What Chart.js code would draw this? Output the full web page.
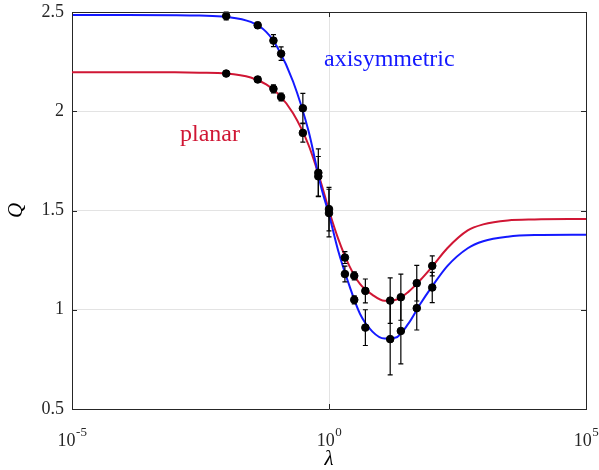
<!DOCTYPE html>
<html>
<head>
<meta charset="utf-8">
<script src="https://cdn.jsdelivr.net/npm/chart.js@4"></script>
<style>
  html, body { margin: 0; padding: 0; background: #fff; }
  canvas { display: block; }
</style>
</head>
<body>
<canvas id="chart" width="599" height="470"></canvas>
<script>
// measured points (black markers with error bars)
const lambda = [0.01, 0.041, 0.083, 0.117, 0.31, 0.62, 1, 2.04, 3.1, 5.1, 15.5, 25, 51, 102];
const qAxi = [2.48, 2.433, 2.356, 2.29, 2.015, 1.69, 1.487, 1.18, 1.05, 0.91, 0.852, 0.893, 1.008, 1.112];
const errAxi = [0.02, 0.015, 0.03, 0.034, 0.075, 0.12, 0.12, 0.04, 0.02, 0.09, 0.18, 0.166, 0.11, 0.076];
const qPlanar = [2.19, 2.16, 2.113, 2.072, 1.891, 1.672, 1.507, 1.263, 1.171, 1.095, 1.046, 1.063, 1.134, 1.221];
const errPlanar = [0.012, 0.015, 0.02, 0.02, 0.047, 0.1, 0.11, 0.03, 0.02, 0.06, 0.115, 0.116, 0.09, 0.05];

// model curves
const curveLambda = [1e-5, 1e-4, 1e-3, 3e-3, 0.01, 0.03, 0.06, 0.1, 0.2, 0.4, 0.7, 1, 1.5, 2.5, 4, 7, 12, 20, 35, 60, 100, 200, 500, 1000, 3000, 1e4, 1e5];
const curveAxi = [2.485, 2.485, 2.484, 2.482, 2.476, 2.45, 2.40, 2.32, 2.15, 1.90, 1.62, 1.48, 1.30, 1.12, 0.98, 0.89, 0.855, 0.86, 0.93, 1.03, 1.115, 1.22, 1.31, 1.345, 1.368, 1.376, 1.378];
const curvePlanar = [2.197, 2.197, 2.196, 2.194, 2.19, 2.17, 2.135, 2.09, 1.99, 1.83, 1.64, 1.50, 1.36, 1.22, 1.13, 1.075, 1.045, 1.05, 1.09, 1.15, 1.215, 1.31, 1.40, 1.43, 1.45, 1.455, 1.457];

const xTicks = [1e-5, 1, 1e5];
const xTickExp = ['-5', '0', '5'];
const yTicks = [0.5, 1, 1.5, 2, 2.5];

const notes = [
    { text: 'axisymmetric', lambda: 0.8, q: 2.228, series: 'axi' },
    { text: 'planar', lambda: 1.26e-3, q: 1.848, series: 'planar' }
];

const BLUE = 'rgb(20, 25, 255)';
const RED = 'rgb(208, 22, 52)';
const AXIS = '#262626';
const GRID = '#e3e3e3';
const SERIF = "'Liberation Serif', 'DejaVu Serif', serif";

const toXY = (xs, ys) => xs.map((x, i) => ({ x, y: ys[i] }));

// error bars drawn just before each marker dataset
const errorBars = {
    id: 'errorBars',
    beforeDatasetDraw(chart, args) {
        const ds = chart.data.datasets[args.index];
        if (!ds.errors) return;
        const { x, y } = chart.scales;
        const ctx = chart.ctx;
        ctx.save();
        ctx.strokeStyle = '#000';
        ctx.lineWidth = 1.2;
        ds.data.forEach((p, i) => {
            const px = x.getPixelForValue(p.x);
            const top = y.getPixelForValue(p.y + ds.errors[i]);
            const bot = y.getPixelForValue(p.y - ds.errors[i]);
            ctx.beginPath();
            ctx.moveTo(px, top); ctx.lineTo(px, bot);
            ctx.moveTo(px - 2.5, top); ctx.lineTo(px + 2.5, top);
            ctx.moveTo(px - 2.5, bot); ctx.lineTo(px + 2.5, bot);
            ctx.stroke();
        });
        ctx.restore();
    }
};

// matlab style box: top/right border, inward ticks, 10^n labels, text labels
const box = {
    id: 'box',
    afterDatasetsDraw(chart) {
        const { ctx, chartArea: a } = chart;
        const { x, y } = chart.scales;
        ctx.save();
        ctx.strokeStyle = AXIS;
        ctx.lineWidth = 1;
        ctx.beginPath();
        ctx.moveTo(a.left, a.top + 0.5); ctx.lineTo(a.right + 0.5, a.top + 0.5);
        ctx.lineTo(a.right + 0.5, a.bottom);
        xTicks.forEach(v => {
            const px = Math.round(x.getPixelForValue(v)) + 0.5;
            ctx.moveTo(px, a.bottom); ctx.lineTo(px, a.bottom - 5);
            ctx.moveTo(px, a.top); ctx.lineTo(px, a.top + 5);
        });
        yTicks.forEach(v => {
            const py = Math.round(y.getPixelForValue(v)) + 0.5;
            ctx.moveTo(a.left, py); ctx.lineTo(a.left + 5, py);
            ctx.moveTo(a.right, py); ctx.lineTo(a.right - 5, py);
        });
        ctx.stroke();

        // x tick labels with a raised exponent
        ctx.fillStyle = AXIS;
        ctx.textBaseline = 'alphabetic';
        ctx.textAlign = 'left';
        const baseFont = '18px ' + SERIF;
        const expFont = '13px ' + SERIF;
        xTicks.forEach((v, i) => {
            ctx.font = baseFont;
            const wb = ctx.measureText('10').width;
            ctx.font = expFont;
            const we = ctx.measureText(xTickExp[i]).width;
            const left = x.getPixelForValue(v) - (wb + we) / 2;
            ctx.font = baseFont;
            ctx.fillText('10', left, a.bottom + 37);
            ctx.font = expFont;
            ctx.fillText(xTickExp[i], left + wb + 0.5, a.bottom + 27);
        });

        ctx.font = '24px ' + SERIF;
        notes.forEach(n => {
            ctx.fillStyle = n.series === 'axi' ? BLUE : RED;
            ctx.fillText(n.text, x.getPixelForValue(n.lambda), y.getPixelForValue(n.q));
        });
        ctx.restore();
    }
};

new Chart('chart', {
    type: 'line',
    data: {
        datasets: [
            {
                label: 'axisymmetric model',
                data: toXY(curveLambda, curveAxi),
                borderColor: BLUE,
                borderWidth: 2,
                pointRadius: 0,
                cubicInterpolationMode: 'monotone',
                order: 1
            },
            {
                label: 'planar model',
                data: toXY(curveLambda, curvePlanar),
                borderColor: RED,
                borderWidth: 2,
                pointRadius: 0,
                cubicInterpolationMode: 'monotone',
                order: 1
            },
            {
                label: 'axisymmetric',
                data: toXY(lambda, qAxi),
                errors: errAxi,
                showLine: false,
                pointRadius: 3.8,
                pointBackgroundColor: '#000',
                pointBorderColor: '#000',
                order: 0
            },
            {
                label: 'planar',
                data: toXY(lambda, qPlanar),
                errors: errPlanar,
                showLine: false,
                pointRadius: 3.8,
                pointBackgroundColor: '#000',
                pointBorderColor: '#000',
                order: 0
            }
        ]
    },
    options: {
        responsive: false,
        animation: false,
        devicePixelRatio: 1,
        layout: { padding: { top: 12, right: 13, left: 0, bottom: 0 } },
        plugins: {
            legend: { display: false },
            tooltip: { enabled: false }
        },
        scales: {
            x: {
                type: 'logarithmic',
                min: 1e-5,
                max: 1e5,
                afterBuildTicks: s => { s.ticks = xTicks.map(v => ({ value: v })); },
                afterFit: s => { s.height = 61; s.paddingLeft = 0; s.paddingRight = 0; },
                ticks: { display: false },
                grid: {
                    drawTicks: false,
                    color: c => (c.tick && c.tick.value === 1 ? GRID : 'transparent')
                },
                border: { color: AXIS, width: 1 },
                title: {
                    display: true,
                    text: 'λ',
                    color: '#000',
                    font: { family: SERIF, size: 21, style: 'italic', lineHeight: 1 },
                    padding: { top: 0, bottom: 0 }
                }
            },
            y: {
                min: 0.5,
                max: 2.5,
                afterBuildTicks: s => { s.ticks = yTicks.map(v => ({ value: v })); },
                afterFit: s => { s.width = 72; s.paddingTop = 0; s.paddingBottom = 0; },
                ticks: {
                    callback: v => String(v),
                    padding: 8,
                    color: AXIS,
                    font: { family: SERIF, size: 18 }
                },
                grid: {
                    drawTicks: false,
                    color: c => ([1, 1.5, 2].includes(c.tick && c.tick.value) ? GRID : 'transparent')
                },
                border: { color: AXIS, width: 1 },
                title: {
                    display: true,
                    text: 'Q',
                    color: '#000',
                    font: { family: SERIF, size: 21, style: 'italic', lineHeight: 1.2 },
                    padding: { top: 4, bottom: 0 }
                }
            }
        }
    },
    plugins: [errorBars, box]
});
</script>
</body>
</html>
